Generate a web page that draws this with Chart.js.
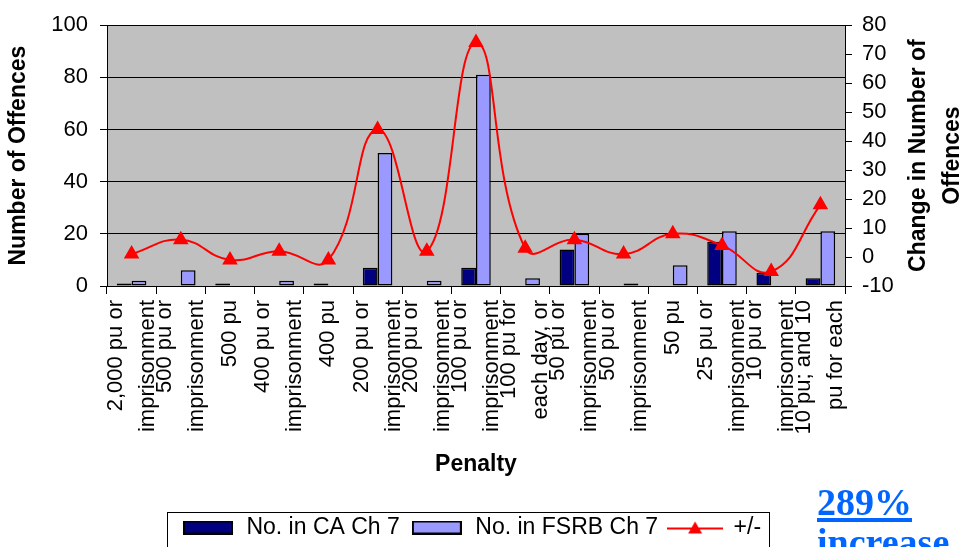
<!DOCTYPE html>
<html>
<head>
<meta charset="utf-8">
<script src="https://cdn.jsdelivr.net/npm/chart.js@4"></script>
<style>
  html, body { margin: 0; padding: 0; background: #fff; overflow: hidden; }
  #wrap { position: relative; width: 964px; height: 547px; overflow: hidden; }
  #chart { position: absolute; left: 0; top: 0; }
  #note {
    position: absolute; left: 817px; top: 482px;
    font-family: 'Liberation Serif', 'Times New Roman', serif;
    font-weight: bold; font-size: 38px; line-height: 40px; color: #0066ff;
    text-decoration: underline; text-decoration-thickness: 4px; text-underline-offset: 3px;
  }
</style>
</head>
<body>
<div id="wrap">
  <canvas id="chart" width="964" height="549"></canvas>
  <div id="note">289%<br>increase</div>
</div>
<script>
const FONT = '"Liberation Sans", Arial, sans-serif'

// penalty categories (as wrapped on the axis)
const penalties = [
  ['2,000 pu or', 'imprisonment'],
  ['500 pu or', 'imprisonment'],
  '500 pu',
  ['400 pu or', 'imprisonment'],
  '400 pu',
  ['200 pu or', 'imprisonment'],
  ['200 pu or', 'imprisonment'],
  ['100 pu or', 'imprisonment'],
  ['100 pu for', 'each day, or'],
  ['50 pu or', 'imprisonment'],
  ['50 pu or', 'imprisonment'],
  '50 pu',
  ['25 pu or', 'imprisonment'],
  ['10 pu or', 'imprisonment'],
  ['10 pu; and 10', 'pu for each']
]
const caCounts   = [1, 0, 1, 0, 1, 7, 0, 7, 0, 14, 0, 0, 17, 5, 3]
const fsrbCounts = [2, 6, 0, 2, 0, 51, 2, 81, 3, 20, 1, 8, 21, 0, 21]
const changes    = [1, 6, -1, 2, -1, 44, 2, 74, 3, 6, 1, 8, 4, -5, 18]

const leftTicks = [0, 20, 40, 60, 80, 100]
const rightTicks = [-10, 0, 10, 20, 30, 40, 50, 60, 70, 80]
const rightTitle = ['Change in Number of', 'Offences']

const LINE_H = 32
// single-line labels get an empty first line so every label sits centred on its category
const labels = penalties.map(p => Array.isArray(p) ? p : ['', p])

function barSwatch(fill){
  const c = document.createElement('canvas')
  c.width = 50; c.height = 14
  const g = c.getContext('2d')
  g.fillStyle = fill
  g.fillRect(0, 0, 50, 14)
  g.strokeStyle = '#000'
  g.lineWidth = 2
  g.strokeRect(1, 1, 48, 12)
  return c
}
function lineSwatch(){
  const c = document.createElement('canvas')
  c.width = 56; c.height = 16
  const g = c.getContext('2d')
  g.strokeStyle = '#ff0000'
  g.lineWidth = 2
  g.beginPath(); g.moveTo(0, 9); g.lineTo(56, 9); g.stroke()
  g.fillStyle = '#ff0000'
  g.beginPath(); g.moveTo(28, 2); g.lineTo(35, 14); g.lineTo(21, 14); g.closePath(); g.fill()
  return c
}
const swatches = [barSwatch('#000080'), barSwatch('#9999ff'), lineSwatch()]

const plotBg = {
  id: 'plotBg',
  beforeDraw(chart){
    const {ctx, chartArea: a} = chart
    ctx.save()
    ctx.fillStyle = '#c0c0c0'
    ctx.fillRect(a.left, a.top, a.width, a.height)
    ctx.restore()
  }
}

const legendFrame = {
  id: 'legendFrame',
  afterDraw(chart){
    const boxes = chart.legend.legendHitBoxes
    if (!boxes || !boxes.length) return
    const ctx = chart.ctx
    const left = Math.min(...boxes.map(b => b.left)) - 14
    const right = Math.max(...boxes.map(b => b.left + b.width)) + 8
    const mid = boxes[0].top + boxes[0].height / 2
    ctx.save()
    ctx.strokeStyle = '#000'
    ctx.lineWidth = 1
    ctx.strokeRect(Math.round(left) + 0.5, Math.round(mid - 16) + 0.5, Math.round(right - left), 60)
    ctx.restore()
  }
}

const rightTitlePlugin = {
  id: 'rightTitle',
  afterDraw(chart){
    const {ctx, chartArea: a} = chart
    const mid = (a.top + a.bottom) / 2
    ctx.save()
    ctx.fillStyle = '#000'
    ctx.font = 'bold 23px ' + FONT
    ctx.textAlign = 'center'
    ctx.textBaseline = 'middle'
    rightTitle.forEach((line, i) => {
      ctx.save()
      ctx.translate(a.right + 74 + i * 34, mid)
      ctx.rotate(-Math.PI / 2)
      ctx.fillText(line, 0, 0)
      ctx.restore()
    })
    ctx.restore()
  }
}

Chart.defaults.font.family = FONT
Chart.defaults.color = '#000'

new Chart(document.getElementById('chart'), {
  type: 'bar',
  data: {
    labels: labels,
    datasets: [
      {
        label: 'No. in CA Ch 7',
        data: caCounts,
        backgroundColor: '#000080',
        borderColor: '#000',
        borderWidth: 1.5,
        borderSkipped: false,
        yAxisID: 'y',
        order: 1
      },
      {
        label: 'No. in FSRB Ch 7',
        data: fsrbCounts,
        backgroundColor: '#9999ff',
        borderColor: '#000',
        borderWidth: 1.5,
        borderSkipped: false,
        yAxisID: 'y',
        order: 1
      },
      {
        type: 'line',
        label: '+/-',
        data: changes,
        yAxisID: 'y1',
        borderColor: '#ff0000',
        borderWidth: 2,
        tension: 0.45,
        fill: false,
        pointStyle: 'triangle',
        pointRadius: 7,
        pointBackgroundColor: '#ff0000',
        pointBorderColor: '#ff0000',
        order: 0
      }
    ]
  },
  options: {
    responsive: false,
    animation: false,
    layout: { padding: { top: 24, right: 22, left: 0, bottom: 0 } },
    datasets: { bar: { barPercentage: 1, categoryPercentage: 0.6 } },
    plugins: {
      tooltip: { enabled: false },
      legend: {
        position: 'bottom',
        labels: {
          usePointStyle: true,
          pointStyleWidth: 54,
          boxHeight: 14,
          padding: 10,
          color: '#000',
          font: { family: FONT, size: 23 },
          sort: (a, b) => a.datasetIndex - b.datasetIndex,
          generateLabels(chart){
            const items = Chart.defaults.plugins.legend.labels.generateLabels(chart)
            items.forEach(it => { it.pointStyle = swatches[it.datasetIndex] })
            return items
          }
        }
      }
    },
    scales: {
      x: {
        offset: true,
        grid: { offset: true, drawOnChartArea: false, drawTicks: true, tickLength: 8, color: '#000' },
        border: { color: '#000', width: 1 },
        ticks: {
          autoSkip: false,
          maxRotation: 90,
          minRotation: 90,
          padding: 6,
          labelOffset: -LINE_H / 2,
          color: '#000',
          font: (c) => ({
            family: FONT,
            size: 22,
            lineHeight: Array.isArray(penalties[c.index]) ? LINE_H + 'px' : (LINE_H / 2) + 'px'
          })
        },
        title: {
          display: true,
          text: 'Penalty',
          color: '#000',
          font: { family: FONT, size: 23, weight: 'bold' },
          padding: { top: 0, bottom: 28 }
        },
        afterFit: s => { s.height = 220 }
      },
      y: {
        position: 'left',
        min: leftTicks[0],
        max: leftTicks[leftTicks.length - 1],
        afterBuildTicks: s => { s.ticks = leftTicks.map(v => ({ value: v })) },
        grid: { color: '#000', tickLength: 7 },
        border: { color: '#000', width: 1 },
        ticks: { autoSkip: false, padding: 12, color: '#000', font: { family: FONT, size: 22 } },
        title: {
          display: true,
          text: 'Number of Offences',
          color: '#000',
          font: { family: FONT, size: 23, weight: 'bold' },
          padding: { top: 5, bottom: 0 }
        },
        afterFit: s => { s.width = 107 }
      },
      y1: {
        position: 'right',
        min: rightTicks[0],
        max: rightTicks[rightTicks.length - 1],
        afterBuildTicks: s => { s.ticks = rightTicks.map(v => ({ value: v })) },
        grid: { drawOnChartArea: false, color: '#000', tickLength: 7 },
        border: { color: '#000', width: 1 },
        ticks: { autoSkip: false, padding: 10, color: '#000', font: { family: FONT, size: 22 } },
        afterFit: s => { s.width = 97 }
      }
    }
  },
  plugins: [plotBg, legendFrame, rightTitlePlugin]
})
</script>
</body>
</html>
